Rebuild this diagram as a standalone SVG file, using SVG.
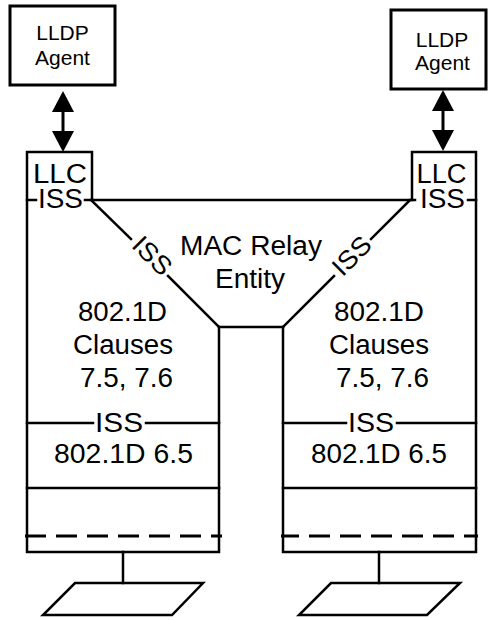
<svg xmlns="http://www.w3.org/2000/svg" width="488" height="620" viewBox="0 0 488 620">
<defs>
<style>
.ln{fill:none;stroke:#000;stroke-width:2.5;stroke-linejoin:miter;stroke-linecap:square}
.box{fill:#fff;stroke:#000;stroke-width:3}
.dash{fill:none;stroke:#000;stroke-width:3;stroke-dasharray:21 10}
.ar{fill:none;stroke:#000;stroke-width:3}
.t{font-family:"Liberation Sans",Arial,sans-serif;font-size:27px;fill:#000;text-anchor:middle}
.s{font-family:"Liberation Sans",Arial,sans-serif;font-size:21px;fill:#000;text-anchor:middle}
.d{font-family:"Liberation Sans",Arial,sans-serif;font-size:26px;fill:#000;text-anchor:middle}
</style>
<marker id="head" viewBox="0 0 21 22" refX="0" refY="11" markerWidth="21" markerHeight="22" markerUnits="userSpaceOnUse" orient="auto-start-reverse">
<path d="M0,0 L21,11 L0,22 z" fill="#000"/>
</marker>
</defs>
<rect width="488" height="620" fill="#fff"/>

<g id="lldp-left">
<rect class="box" x="10" y="6" width="105" height="79"/>
<text class="s" x="62.5" y="40">LLDP</text>
<text class="s" x="62.5" y="65">Agent</text>
</g>

<g id="lldp-right">
<rect class="box" x="391" y="10" width="95" height="79"/>
<text class="s" x="442" y="47">LLDP</text>
<text class="s" x="442.5" y="70">Agent</text>
</g>

<g id="relay">
<line class="ln" x1="85" y1="200" x2="415" y2="200"/>
<line class="ln" x1="91" y1="200" x2="131" y2="239"/>
<line class="ln" x1="168" y1="276" x2="219" y2="327"/>
<line class="ln" x1="410" y1="200" x2="371" y2="239"/>
<line class="ln" x1="334" y1="276" x2="283" y2="327"/>
<line class="ln" x1="219" y1="327" x2="283" y2="327"/>
<text class="d" transform="translate(151,257) rotate(45)" x="0" y="7" textLength="44" lengthAdjust="spacingAndGlyphs">ISS</text>
<text class="d" transform="translate(353,257) rotate(-45)" x="0" y="7" textLength="44" lengthAdjust="spacingAndGlyphs">ISS</text>
<text class="t" x="251" y="255" textLength="142" lengthAdjust="spacingAndGlyphs">MAC Relay</text>
<text class="t" x="250" y="288" textLength="70" lengthAdjust="spacingAndGlyphs">Entity</text>
</g>

<g id="port-left">
<polyline class="ln" points="92,200 92,152 27,152 27,552 219,552 219,327"/>
<line class="ln" x1="27" y1="200" x2="36" y2="200"/>
<text class="t" x="60" y="183" textLength="54" lengthAdjust="spacingAndGlyphs">LLC</text>
<text class="t" x="60.5" y="208" textLength="45" lengthAdjust="spacingAndGlyphs">ISS</text>
<text class="t" x="122.5" y="321" textLength="89" lengthAdjust="spacingAndGlyphs">802.1D</text>
<text class="t" x="123" y="354" textLength="100" lengthAdjust="spacingAndGlyphs">Clauses</text>
<text class="t" x="126.5" y="387" textLength="93" lengthAdjust="spacingAndGlyphs">7.5, 7.6</text>
<line class="ln" x1="27" y1="423" x2="93" y2="423"/>
<line class="ln" x1="146" y1="423" x2="219" y2="423"/>
<text class="t" x="119" y="432" textLength="48" lengthAdjust="spacingAndGlyphs">ISS</text>
<text class="t" x="123.5" y="463" textLength="139" lengthAdjust="spacingAndGlyphs">802.1D 6.5</text>
<line class="ln" x1="27" y1="488" x2="219" y2="488"/>
<line class="dash" x1="25" y1="536" x2="222" y2="536"/>
<line class="ln" x1="123" y1="552" x2="123" y2="583"/>
<polygon class="ln" points="75,583 203,583 172,615 43,615"/>
</g>

<g id="port-right">
<polyline class="ln" points="412,200 412,152 476,152 476,552 283,552 283,327"/>
<line class="ln" x1="468" y1="200" x2="476" y2="200"/>
<text class="t" x="441.5" y="183" textLength="50" lengthAdjust="spacingAndGlyphs">LLC</text>
<text class="t" x="442.5" y="208" textLength="45" lengthAdjust="spacingAndGlyphs">ISS</text>
<text class="t" x="379" y="321" textLength="90" lengthAdjust="spacingAndGlyphs">802.1D</text>
<text class="t" x="379" y="354" textLength="100" lengthAdjust="spacingAndGlyphs">Clauses</text>
<text class="t" x="382.5" y="387" textLength="93" lengthAdjust="spacingAndGlyphs">7.5, 7.6</text>
<line class="ln" x1="283" y1="423" x2="346" y2="423"/>
<line class="ln" x1="397" y1="423" x2="476" y2="423"/>
<text class="t" x="371" y="432" textLength="46" lengthAdjust="spacingAndGlyphs">ISS</text>
<text class="t" x="379" y="463" textLength="136" lengthAdjust="spacingAndGlyphs">802.1D 6.5</text>
<line class="ln" x1="283" y1="488" x2="476" y2="488"/>
<line class="dash" x1="281" y1="536" x2="478" y2="536" stroke-dashoffset="3"/>
<line class="ln" x1="379" y1="552" x2="379" y2="583"/>
<polygon class="ln" points="331,583 460,583 427,615 299,615"/>
</g>

<g id="connectors">
<line class="ar" x1="63" y1="112" x2="63" y2="131" marker-start="url(#head)" marker-end="url(#head)"/>
<line class="ar" x1="443" y1="111" x2="443" y2="130" marker-start="url(#head)" marker-end="url(#head)"/>
</g>
</svg>
